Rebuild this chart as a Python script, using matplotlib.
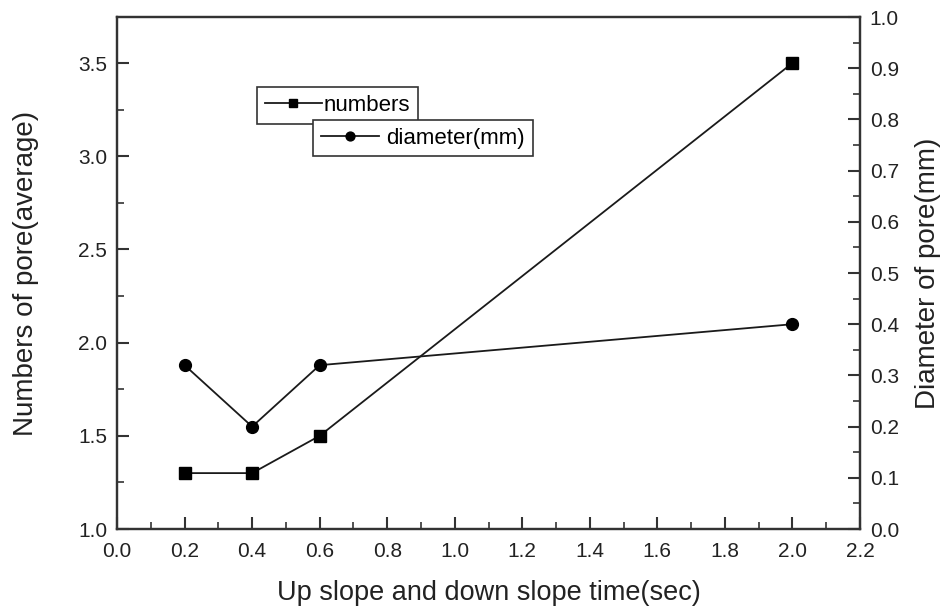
import numpy as np
import matplotlib
matplotlib.use('Agg')
import matplotlib.pyplot as plt
from matplotlib.ticker import MultipleLocator

plt.rcParams['font.family'] = ['Liberation Sans', 'DejaVu Sans']

# Data
slope_time = [0.2, 0.4, 0.6, 2.0]
numbers = [1.3, 1.3, 1.5, 3.5]
diameter = [0.32, 0.20, 0.32, 0.40]

fig = plt.figure(figsize=(9.44, 6.14), dpi=100)
ax = fig.add_axes([0.124, 0.1384, 0.787, 0.8339])
ax2 = ax.twinx()

l1, = ax.plot(slope_time, numbers, '-', color='#1a1a1a', lw=1.3,
              marker='s', ms=8, mfc='black', mec='black', label='numbers')
l2, = ax2.plot(slope_time, diameter, '-', color='#1a1a1a', lw=1.3,
               marker='o', ms=8.5, mfc='black', mec='black', label='diameter(mm)')

ax.set_xlim(0.0, 2.2)
ax.set_ylim(1.0, 3.747)
ax2.set_ylim(0.0, 1.0)

ax.xaxis.set_major_locator(MultipleLocator(0.2))
ax.xaxis.set_minor_locator(MultipleLocator(0.1))
ax.yaxis.set_major_locator(MultipleLocator(0.5))
ax.yaxis.set_minor_locator(MultipleLocator(0.25))
ax2.yaxis.set_major_locator(MultipleLocator(0.1))
ax2.yaxis.set_minor_locator(MultipleLocator(0.05))

ax.xaxis.set_major_formatter(plt.FormatStrFormatter('%.1f'))
ax.yaxis.set_major_formatter(plt.FormatStrFormatter('%.1f'))
ax2.yaxis.set_major_formatter(plt.FormatStrFormatter('%.1f'))

for a in (ax, ax2):
    for s in a.spines.values():
        s.set_linewidth(1.6)
        s.set_color('#333333')
ax.tick_params(axis='x', which='major', pad=9)
ax.tick_params(axis='y', which='major', pad=7)
ax.tick_params(axis='both', which='major', direction='in', length=8.5, width=1.5,
               labelsize=15, colors='#333333', top=False, right=False)
ax.tick_params(axis='both', which='minor', direction='in', length=5, width=1.2,
               colors='#333333', top=False, right=False)
ax2.tick_params(axis='y', which='major', direction='in', length=8.5, width=1.5,
                labelsize=15, colors='#333333', pad=7)
ax2.tick_params(axis='y', which='minor', direction='in', length=5, width=1.2,
                colors='#333333')
for lab in ax.get_xticklabels() + ax.get_yticklabels() + ax2.get_yticklabels():
    lab.set_color('#222222')

ax.set_xlabel('Up slope and down slope time(sec)', fontsize=19.5, color='#222222')
ax.set_ylabel('Numbers of pore(average)', fontsize=20, color='#222222')
ax2.set_ylabel('Diameter of pore(mm)', fontsize=20, color='#222222')
ax.xaxis.set_label_coords(0.5, -0.125)
ax.yaxis.set_label_coords(-0.1225, 0.5)
ax2.yaxis.set_label_coords(1.0915, 0.5)
ax.xaxis.label.set_va('center')
ax.yaxis.label.set_va('center')
ax2.yaxis.label.set_va('center')

leg1 = ax2.legend(handles=[l1], loc='upper left', bbox_to_anchor=(0.188, 0.863),
                  frameon=True, fancybox=False, edgecolor='#333333', fontsize=16,
                  handlelength=2.6, handletextpad=0.05, borderpad=0.35, borderaxespad=0,
                  markerscale=0.75, framealpha=1)
leg1.get_frame().set_linewidth(1.2)
ax2.add_artist(leg1)
leg2 = ax2.legend(handles=[l2], loc='upper left', bbox_to_anchor=(0.264, 0.799),
                  frameon=True, fancybox=False, edgecolor='#333333', fontsize=16,
                  handlelength=2.6, handletextpad=0.35, borderpad=0.35, borderaxespad=0,
                  markerscale=0.75, framealpha=1)
leg2.get_frame().set_linewidth(1.2)

fig.savefig('out.png', dpi=100)
